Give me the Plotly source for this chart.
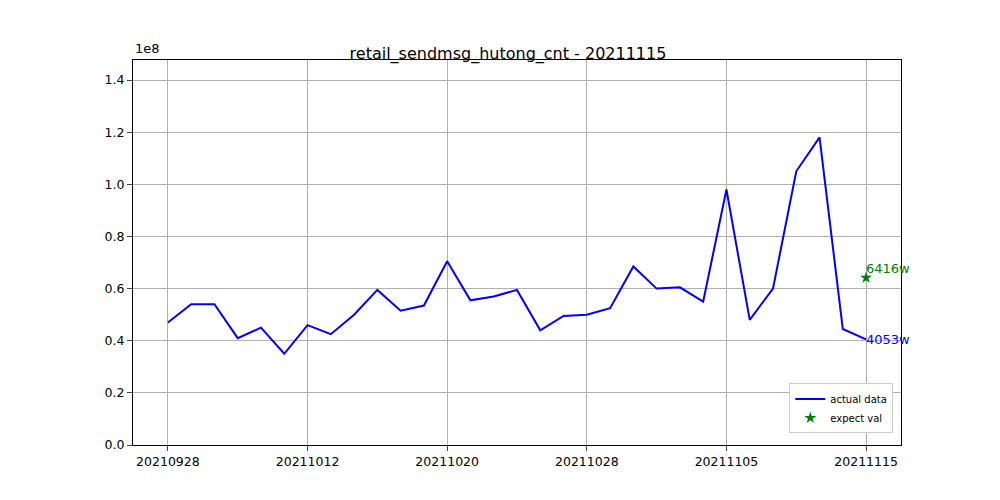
import plotly.graph_objects as go

dates = ['20210928', '20210929', '20210930', '20211008', '20211009', '20211011',
         '20211012', '20211013', '20211014', '20211015', '20211018', '20211019',
         '20211020', '20211021', '20211022', '20211025', '20211026', '20211027',
         '20211028', '20211029', '20211101', '20211102', '20211103', '20211104',
         '20211105', '20211108', '20211109', '20211110', '20211111', '20211112',
         '20211115']
actual = [0.47, 0.54, 0.54, 0.41, 0.45, 0.35, 0.46, 0.425, 0.50, 0.595, 0.515,
          0.535, 0.705, 0.555, 0.57, 0.595, 0.44, 0.495, 0.50, 0.525, 0.685,
          0.60, 0.605, 0.55, 0.98, 0.48, 0.60, 1.05, 1.18, 0.445, 0.4053]
expect = 0.6416
tick_idx = [0, 6, 12, 18, 24, 30]

x = list(range(len(dates)))
fig = go.Figure()
fig.add_trace(go.Scatter(x=x, y=actual, mode='lines', name='actual data',
                         line=dict(color='blue', width=2)))
fig.add_trace(go.Scatter(x=[x[-1]], y=[expect], mode='markers', name='expect val',
                         marker=dict(symbol='star', color='green', size=9)))
fig.add_annotation(x=x[-1], y=expect, text=f'{round(expect*1e4)}w', showarrow=False,
                   xanchor='left', yanchor='bottom', xshift=-2, font=dict(color='green', size=13))
fig.add_annotation(x=x[-1], y=actual[-1], text=f'{round(actual[-1]*1e4)}w', showarrow=False,
                   xanchor='left', yanchor='middle', xshift=-2, font=dict(color='blue', size=13))
fig.add_annotation(x=0, y=1, xref='paper', yref='paper', text='1e8', showarrow=False,
                   xanchor='left', yanchor='bottom', yshift=2, font=dict(size=13))

fig.update_layout(
    width=1000, height=500, plot_bgcolor='white', paper_bgcolor='white',
    margin=dict(l=125, r=107, t=52, b=63),
    font=dict(family='DejaVu Sans', color='black', size=12.5),
    title=dict(text='retail_sendmsg_hutong_cnt - 20211115', x=0.5, xanchor='center',
               y=0.92, font=dict(size=16)),
    legend=dict(x=0.99, y=0.03, xanchor='right', yanchor='bottom', bordercolor='#ccc',
                borderwidth=1, font=dict(size=10), bgcolor='white'),
    xaxis=dict(range=[-1.5, 31.5], tickvals=[x[i] for i in tick_idx],
               ticktext=[dates[i] for i in tick_idx], showgrid=True, gridcolor='#b0b0b0',
               showline=True, linecolor='black', mirror=True, ticks='outside', zeroline=False),
    yaxis=dict(range=[0, 1.477], dtick=0.2, tickformat='.1f', showgrid=True,
               gridcolor='#b0b0b0', showline=True, linecolor='black', mirror=True,
               ticks='outside', zeroline=False),
)
fig.write_html('out.html')
